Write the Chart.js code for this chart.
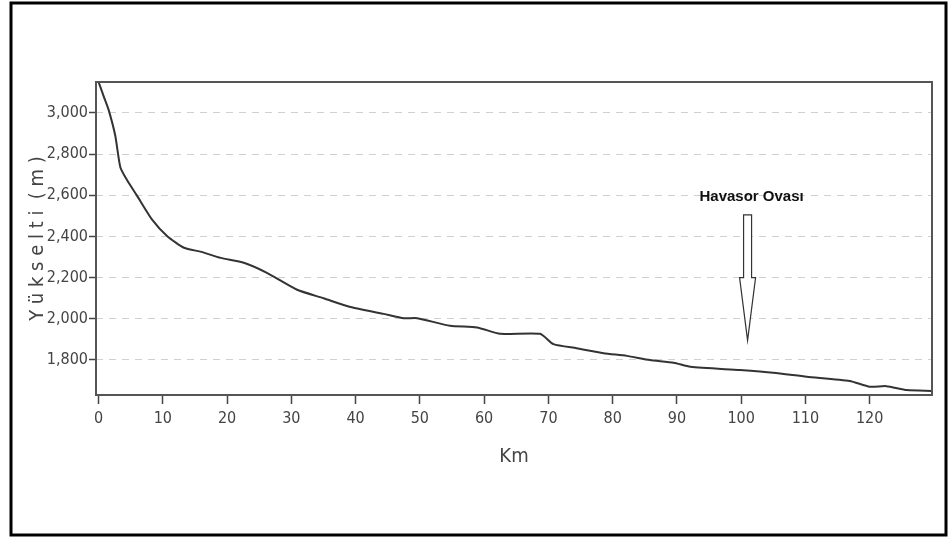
<!DOCTYPE html>
<html lang="tr">

<head>
  <meta charset="UTF-8">
  <title>Yükselti profili</title>
  <script src="https://cdn.jsdelivr.net/npm/chart.js"></script>
  <style>
    body { margin: 0; background: #fff; }
    #kutu { position: relative; width: 950px; height: 539px; }
  </style>
</head>

<body>
  <div id="kutu">
    <canvas id="id_grafico" width="950" height="539"></canvas>
  </div>

<script>

// mesafe (km) ve yükselti (m)
const km = [0, 0.8, 1.6, 2.6, 3.4, 4.5, 6.0, 8.3, 10.7, 13.3, 16, 19.0, 22.6, 26.2, 30.9, 35, 39.2, 44.4, 47.5, 49.6,
  54.7, 58.9, 62.5, 68.7, 70.8, 74.4, 78.6, 82.2, 85.8, 89.5, 92.1, 99.8, 105, 110.2, 116.9, 120, 122.6, 125.8, 129.6];
const yukselti = [3150, 3080, 3011, 2889, 2735, 2670, 2597, 2483, 2401, 2345, 2325, 2296, 2272, 2223, 2141, 2100, 2057, 2024, 2003, 2003,
  1966, 1958, 1927, 1927, 1877, 1857, 1833, 1820, 1800, 1787, 1767, 1751, 1738, 1719, 1698, 1670, 1673, 1654, 1650];

const xTicks = [0, 10, 20, 30, 40, 50, 60, 70, 80, 90, 100, 110, 120];
const yTicks = [1800, 2000, 2200, 2400, 2600, 2800, 3000];

const etiket = 'Havasor Ovası';
const okKm = 101;          // okun gösterdiği mesafe
const okUst = 2505;        // okun üst ucu
const okUc = 1895;         // okun sivri ucu
const yaziY = 2590;

const yazi = "'DejaVu Sans Condensed', 'Liberation Sans Narrow', sans-serif";

const cerceve = {
  id: 'cerceve',
  beforeDraw(chart) {
    const c = chart.ctx;
    c.save();
    c.fillStyle = '#fff';
    c.fillRect(0, 0, chart.width, chart.height);
    c.restore();
  },
  afterDraw(chart) {
    const c = chart.ctx;
    const a = chart.chartArea;
    c.save();
    // grafik alanı çerçevesi
    c.strokeStyle = '#555';
    c.lineWidth = 2;
    c.strokeRect(a.left, a.top, a.right - a.left, a.bottom - a.top);
    // dış siyah çerçeve
    c.strokeStyle = '#000';
    c.lineWidth = 3;
    c.strokeRect(11, 3, 935, 532);

    // Havasor Ovası oku
    const x = chart.scales.x.getPixelForValue(okKm);
    const y1 = chart.scales.y.getPixelForValue(okUst);
    const y2 = chart.scales.y.getPixelForValue(okUc);
    const boyun = y1 + (y2 - y1) * 0.5;
    c.strokeStyle = '#333';
    c.fillStyle = '#fff';
    c.lineWidth = 1.2;
    c.beginPath();
    c.moveTo(x - 4, y1);
    c.lineTo(x + 4, y1);
    c.lineTo(x + 4, boyun);
    c.lineTo(x + 8, boyun);
    c.lineTo(x, y2);
    c.lineTo(x - 8, boyun);
    c.lineTo(x - 4, boyun);
    c.closePath();
    c.fill();
    c.stroke();

    c.fillStyle = '#111';
    c.font = "bold 15px 'Liberation Sans', Arial, sans-serif";
    c.textAlign = 'center';
    c.textBaseline = 'middle';
    c.fillText(etiket, x + 4, chart.scales.y.getPixelForValue(yaziY));
    c.restore();
  }
};

const ctx = document.getElementById('id_grafico').getContext('2d');
var grafik = new Chart(ctx, {
  type: 'line',
  data: {
    datasets: [
      {
        data: km.map((k, i) => ({ x: k, y: yukselti[i] })),
        borderColor: '#333',
        borderWidth: 2,
        pointRadius: 0,
        tension: 0.2,
        fill: false
      }
    ]
  },
  plugins: [cerceve],
  options: {
    responsive: false,
    animation: false,
    layout: { padding: { top: 82, right: 18, left: 22, bottom: 66 } },
    plugins: {
      legend: { display: false },
      tooltip: { enabled: false }
    },
    scales: {
      x: {
        type: 'linear',
        min: -0.4,
        max: 129.7,
        afterBuildTicks: s => { s.ticks = xTicks.map(v => ({ value: v })); },
        afterFit: s => { s.height = 539 - 395 - 66; },
        border: { display: false },
        grid: { drawOnChartArea: false, drawTicks: true, tickLength: 9, tickColor: '#444', tickWidth: 1.5 },
        ticks: { color: '#444', font: { family: yazi, size: 16 }, padding: 5, maxRotation: 0, autoSkip: false },
        title: { display: true, text: 'Km', color: '#444', font: { family: yazi, size: 20 }, padding: { top: 8 } }
      },
      y: {
        min: 1630,
        max: 3150,
        afterBuildTicks: s => { s.ticks = yTicks.map(v => ({ value: v })); },
        afterFit: s => { s.width = 96 - 22; },
        border: { display: false, dash: [7, 6] },
        grid: {
          color: '#d0d0d0',
          lineWidth: 1,
          tickBorderDash: [],
          tickLength: 7,
          tickColor: '#444',
          tickWidth: 1.5
        },
        ticks: {
          color: '#444',
          font: { family: yazi, size: 16 },
          padding: 1,
          callback: v => v.toLocaleString('en-US')
        },
        title: { display: true, text: 'Y ü k s e l t i  ( m )', color: '#444', font: { family: yazi, size: 20 }, padding: { bottom: 0 } }
      }
    }
  }
});

</script>
</body>

</html>
